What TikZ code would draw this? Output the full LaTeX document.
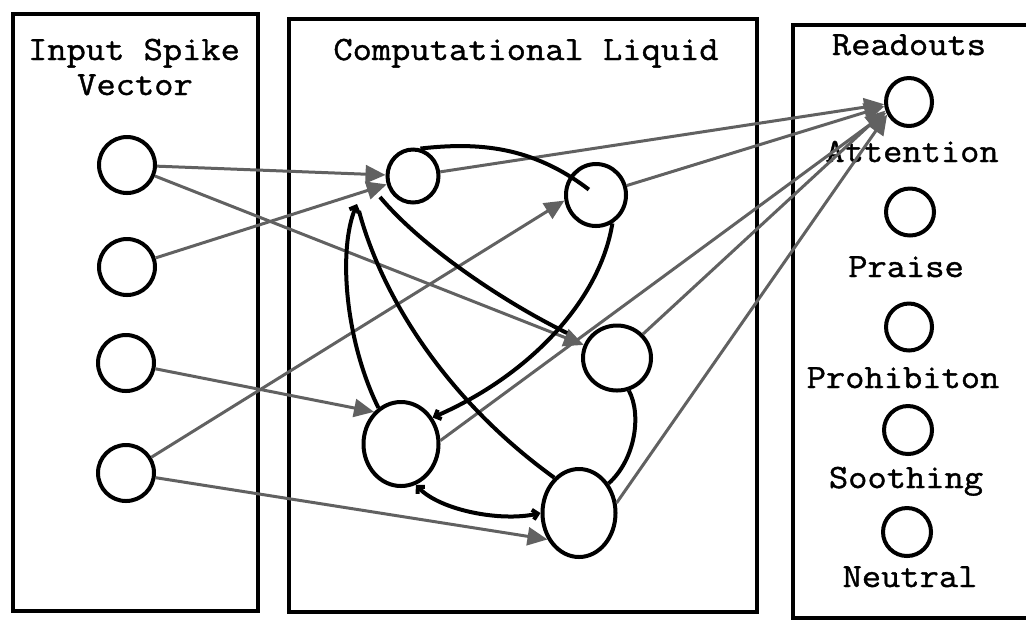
\documentclass[tikz,border=0pt]{standalone}
\usepackage{fontspec}
\newfontfamily\cour[FakeStretch=1.1,FakeBold=1.2]{Latin Modern Mono}
\usetikzlibrary{arrows.meta,shapes.geometric}
\begin{document}
\begin{tikzpicture}[x=0.5pt,y=-0.5pt,
  neuron/.style={draw, ellipse, line width=2pt, inner sep=0pt},
  box/.style={draw, line width=2.2pt},
  lbl/.style={font=\cour\fontsize{17}{18}\selectfont, inner sep=0pt, anchor=base},
  feed/.style={draw=black!62, line width=1.5pt, -{Triangle[length=10pt,width=9pt]}},
  rec/.style={draw=black, line width=2pt},
  barb/.style={-{Straight Barb[length=2.5pt,width=5pt]}},
  barbboth/.style={{Straight Barb[length=2.5pt,width=5pt]}-{Straight Barb[length=2.5pt,width=5pt]}}
]
\useasboundingbox (0,0) rectangle (1026,623);
\clip (0,0) rectangle (1026,623);

% boxes
\draw[box] (13,14) rectangle (258,611);
\draw[box] (289,19) rectangle (757,612);
\draw[box] (1040,25) -- (793,25) -- (793,618) -- (1040,618);

% titles
\node[lbl] (tin) at (134,60) {Input Spike};
\node[lbl] (tvec) at (135,95) {Vector};
\node[lbl] (tliq) at (526,60) {Computational Liquid};
\node[lbl] (tread) at (909,55) {Readouts};

% input neurons
\node[neuron, minimum width=28pt, minimum height=28pt] (I1) at (127,165) {};
\node[neuron, minimum width=28pt, minimum height=28pt] (I2) at (127,267) {};
\node[neuron, minimum width=28pt, minimum height=28pt] (I3) at (126,363) {};
\node[neuron, minimum width=28pt, minimum height=28pt] (I4) at (126,473) {};

% liquid neurons
\node[neuron, minimum width=25.5pt, minimum height=26.5pt] (L1) at (413,176) {};
\node[neuron, minimum width=30pt, minimum height=31pt] (L2) at (596,195) {};
\node[neuron, minimum width=34pt, minimum height=32.5pt] (L3) at (617,358) {};
\node[neuron, minimum width=37.5pt, minimum height=42pt] (L4) at (401,444) {};
\node[neuron, minimum width=36.5pt, minimum height=44pt] (L5) at (579,513) {};

% readout neurons
\node[neuron, minimum width=23pt, minimum height=24pt] (R1) at (909,102) {};
\node[neuron, minimum width=24pt, minimum height=23.5pt] (R2) at (910,212) {};
\node[neuron, minimum width=23pt, minimum height=23.5pt] (R3) at (909,327) {};
\node[neuron, minimum width=24pt, minimum height=24pt] (R4) at (908,430) {};
\node[neuron, minimum width=24pt, minimum height=24pt] (R5) at (907,532) {};

% readout labels
\node[lbl] (tatt) at (912,162) {Attention};
\node[lbl] (tpra) at (906,277) {Praise};
\node[lbl] (tpro) at (903,388) {Prohibiton};
\node[lbl] (tsoo) at (906,488) {Soothing};
\node[lbl] (tneu) at (910,587) {Neutral};

% input -> liquid
\draw[feed] (I1) -- (L1);
\draw[feed] (I1) -- (L3);
\draw[feed] (I2) -- (L1);
\draw[feed] (I3) -- (L4.130);
\draw[feed] (I4) -- (L2.190);
\draw[feed] (I4) -- (L5.220);

% liquid -> readout
\draw[feed] (L1) -- (R1.185);
\draw[feed] (L2) -- (R1.190);
\draw[feed] (L3) -- (R1.200);
\draw[feed] (L4.5) -- (R1.205);
\draw[feed] (L5.15) -- (R1.210);

% recurrent connections
\draw[rec, shorten >=4.5pt] (L1.75) .. controls (478,142) and (532,146) .. (L2.center);
\draw[rec, barb] (L4.122) .. controls (345,340) and (338,250) .. ([shift={(-56,28)}]L1.center);
\draw[rec] ([shift={(-54,35)}]L1.center) .. controls (380,290) and (440,395) .. (L5.125);
\draw[rec] ([shift={(-33,21)}]L1.center) .. controls (420,245) and (500,300) .. ([shift={(-50,-25)}]L3.center);
\draw[rec, barb] (L2.300) .. controls (600,300) and (530,375) .. (L4.40);
\draw[rec] (L3.290) .. controls (642,415) and (635,460) .. (L5.45);
\draw[rec, barbboth] (L4.290) .. controls (440,510) and (500,522) .. (L5.west);
\end{tikzpicture}
\end{document}
